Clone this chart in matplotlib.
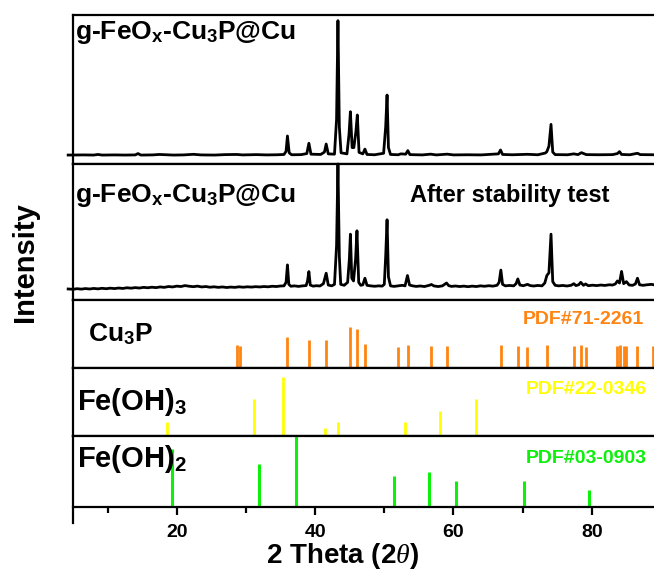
import matplotlib
matplotlib.use("Agg")
import matplotlib.pyplot as plt
from matplotlib.ticker import MultipleLocator

plt.rcParams['font.family'] = ['Liberation Sans', 'DejaVu Sans']
plt.rcParams['mathtext.fontset'] = 'custom'
plt.rcParams['mathtext.it'] = 'Liberation Serif:italic'
plt.rcParams['mathtext.rm'] = 'Liberation Sans:bold'

# XRD pattern, as-prepared sample (2theta, normalised intensity)
tt_fresh = [4.3, 6.5, 8.0, 8.6, 9.2, 11.0, 12.5, 14.0, 14.4, 14.8,
            16.5, 17.5, 19.5, 21.0, 22.4, 23.5, 25.5, 27.0, 28.7, 29.5,
            31.5, 33.0, 34.5, 35.5, 35.8, 36.0, 36.25, 36.6, 38.0, 38.8,
            39.1, 39.4, 40.8, 41.35, 41.6, 41.9, 42.8, 43.1, 43.3, 43.5,
            43.75, 44.6, 44.9, 45.1, 45.35, 45.6, 45.9, 46.1, 46.35, 46.9,
            47.2, 47.5, 48.6, 49.9, 50.2, 50.4, 50.6, 50.9, 52.0, 52.4,
            53.1, 53.4, 53.7, 55.5, 56.7, 57.5, 59.1, 60.0, 62.0, 64.0,
            66.5, 66.8, 67.1, 68.5, 70.7, 72.2, 73.3, 73.5, 73.8, 74.1,
            74.35, 74.7, 76.5, 77.4, 78.0, 78.5, 79.2, 81.0, 83.0, 83.7,
            84.0, 84.3, 85.5, 86.6, 87.0, 89.0, 90.0]
int_fresh = [.060, .061, .060, .064, .060, .061, .060, .061, .070, .060,
             .061, .064, .060, .061, .065, .061, .060, .063, .064, .061,
             .063, .061, .062, .064, .085, .188, .075, .062, .063, .070,
             .139, .066, .064, .080, .134, .068, .066, .300, .962, .250,
             .075, .068, .200, .351, .110, .110, .220, .329, .078, .068,
             .100, .064, .062, .072, .250, .463, .110, .064, .062, .068,
             .066, .090, .063, .061, .066, .061, .066, .061, .062, .061,
             .068, .094, .064, .062, .065, .062, .074, .083, .120, .266,
             .080, .063, .062, .068, .063, .076, .063, .062, .063, .070,
             .083, .064, .062, .072, .063, .062, .062]

# XRD pattern after stability test
tt_after = [4.3, 5.0, 5.6, 6.2, 6.8, 7.4, 8.0, 8.6, 9.2, 9.8,
            10.4, 11.0, 11.6, 12.2, 12.8, 13.4, 14.0, 14.6, 15.2, 15.8,
            16.4, 17.0, 17.6, 18.2, 18.8, 19.4, 20.0, 20.6, 21.2, 21.8,
            22.4, 23.0, 23.6, 24.2, 24.8, 25.4, 26.0, 26.6, 27.2, 27.8,
            28.4, 29.0, 29.6, 30.2, 30.8, 31.4, 32.0, 32.6, 33.2, 33.8,
            34.4, 35.0, 35.5, 35.8, 36.0, 36.2, 36.5, 37.0, 37.6, 38.2,
            38.7, 38.9, 39.1, 39.3, 39.7, 40.2, 40.7, 41.2, 41.6, 41.9,
            42.4, 42.8, 43.1, 43.3, 43.5, 43.7, 44.2, 44.7, 44.95, 45.1,
            45.3, 45.55, 45.85, 46.05, 46.3, 46.6, 46.9, 47.2, 47.5, 48.0,
            48.6, 49.2, 49.7, 50.0, 50.2, 50.4, 50.6, 50.9, 51.4, 52.0,
            52.6, 53.0, 53.35, 53.65, 54.1, 54.6, 55.2, 55.8, 56.5, 56.8,
            57.2, 57.8, 58.4, 59.0, 59.3, 59.7, 60.3, 60.9, 61.5, 62.1,
            62.7, 63.3, 63.9, 64.5, 65.1, 65.7, 66.3, 66.6, 66.85, 67.1,
            67.5, 68.1, 68.7, 69.05, 69.3, 69.6, 70.1, 70.7, 71.1, 71.6,
            72.2, 72.8, 73.2, 73.5, 73.8, 74.1, 74.35, 74.7, 75.2, 75.8,
            76.4, 77.0, 77.4, 77.7, 78.1, 78.4, 78.8, 79.1, 79.5, 80.1,
            80.7, 81.3, 81.9, 82.5, 83.0, 83.4, 83.7, 84.0, 84.3, 84.6,
            85.0, 85.4, 85.9, 86.3, 86.6, 86.9, 87.4, 88.0, 88.6, 89.2, 90.0]
int_after = [.081, .079, .083, .080, .084, .081, .085, .082, .086, .083,
             .087, .084, .088, .085, .090, .087, .091, .088, .093, .090,
             .094, .091, .096, .093, .099, .096, .102, .099, .106, .101,
             .098, .102, .096, .099, .094, .097, .093, .096, .092, .095,
             .093, .097, .094, .097, .095, .098, .096, .099, .097, .101,
             .099, .103, .104, .130, .258, .115, .101, .104, .100, .104,
             .106, .140, .209, .110, .102, .105, .103, .120, .197, .110,
             .104, .115, .400, 1.00, .320, .115, .108, .130, .300, .484,
             .160, .140, .300, .509, .130, .108, .112, .160, .108, .104,
             .101, .104, .102, .115, .320, .590, .170, .104, .100, .104,
             .108, .104, .180, .110, .104, .100, .103, .099, .108, .114,
             .103, .099, .104, .125, .106, .100, .103, .099, .102, .098,
             .102, .099, .104, .101, .105, .102, .108, .130, .220, .115,
             .104, .107, .104, .120, .155, .110, .105, .115, .106, .103,
             .107, .104, .125, .180, .200, .484, .135, .108, .104, .107,
             .103, .108, .120, .106, .112, .130, .108, .118, .105, .109,
             .106, .110, .107, .112, .110, .118, .140, .125, .210, .120,
             .135, .110, .108, .118, .160, .112, .108, .112, .115, .110, .112]

# reference cards
cu3p_pos = [28.7, 29.1, 36.0, 39.1, 41.6, 45.1, 46.1, 47.2, 52.0, 53.4,
            56.7, 59.1, 66.8, 69.3, 70.7, 73.5, 77.4, 78.4, 79.1, 83.7,
            84.1, 84.6, 85.0, 86.6, 88.8]
cu3p_int = [0.34, 0.32, 0.46, 0.41, 0.41, 0.61, 0.58, 0.35, 0.31, 0.34,
            0.33, 0.33, 0.34, 0.32, 0.31, 0.34, 0.32, 0.34, 0.31, 0.32,
            0.34, 0.33, 0.33, 0.33, 0.32]
feoh3_pos = [18.6, 31.1, 35.3, 41.4, 43.3, 53.0, 58.0, 63.2]
feoh3_int = [0.20, 0.54, 0.87, 0.12, 0.20, 0.20, 0.37, 0.54]
feoh2_pos = [19.3, 31.9, 37.2, 51.4, 56.4, 60.4, 70.2, 79.6]
feoh2_int = [0.82, 0.60, 1.00, 0.44, 0.50, 0.37, 0.37, 0.24]

orange = '#FF8412'
yellow = '#FFFF00'
green = '#0CF00C'

W, H = 654, 572
fig = plt.figure(figsize=(W / 100, H / 100), dpi=100)

left = 73 / W
width = 588 / W
rows = [(15, 164), (164, 300), (300, 368), (368, 436), (436, 507)]
axes = []
for top, bot in rows:
    ax = fig.add_axes([left, 1 - bot / H, width, (bot - top) / H])
    ax.set_xlim(5, 90)
    ax.set_ylim(0, 1)
    ax.set_yticks([])
    for s in ax.spines.values():
        s.set_linewidth(1.6)
    axes.append(ax)

ax1, ax2, ax3, ax4, ax5 = axes
for ax in axes[:-1]:
    ax.set_xticks([])

ax1.plot(tt_fresh, int_fresh, color='black', lw=2, clip_on=False)
ax2.plot(tt_after, int_after, color='black', lw=2, clip_on=False)
ax3.vlines(cu3p_pos, 0, cu3p_int, colors=orange, lw=2)
ax4.vlines(feoh3_pos, 0, feoh3_int, colors=yellow, lw=2)
ax5.vlines(feoh2_pos, 0, feoh2_int, colors=green, lw=2.2)

label = r'g-FeO$_\mathregular{x}$-Cu$_\mathregular{3}$P@Cu'
ax1.text(0.004, 0.88, label, transform=ax1.transAxes, fontsize=19,
         fontweight='bold', ha='left', va='center')
ax2.text(0.004, 0.77, label, transform=ax2.transAxes, fontsize=19,
         fontweight='bold', ha='left', va='center')
ax2.text(53.7, 0.765, 'After stability test', fontsize=17,
         fontweight='bold', ha='left', va='center')

ax3.text(7.2, 0.50, r'Cu$_\mathregular{3}$P', fontsize=19,
         fontweight='bold', ha='left', va='center')
ax4.text(5.6, 0.50, r'Fe(OH)$_\mathregular{3}$', fontsize=21,
         fontweight='bold', ha='left', va='center')
ax5.text(5.6, 0.67, r'Fe(OH)$_\mathregular{2}$', fontsize=21,
         fontweight='bold', ha='left', va='center')

ax3.text(87.5, 0.71, 'PDF#71-2261', color=orange, fontsize=14,
         fontweight='bold', ha='right', va='center')
ax4.text(88.0, 0.68, 'PDF#22-0346', color=yellow, fontsize=14,
         fontweight='bold', ha='right', va='center')
ax5.text(88.0, 0.69, 'PDF#03-0903', color=green, fontsize=14,
         fontweight='bold', ha='right', va='center')

ax5.set_xticks([20, 40, 60, 80])
ax5.xaxis.set_minor_locator(MultipleLocator(10))
ax5.tick_params(axis='x', which='major', direction='out', length=6,
                width=1.6, labelsize=14, pad=6)
ax5.tick_params(axis='x', which='minor', direction='out', length=4,
                width=1.6)
for t in ax5.get_xticklabels():
    t.set_fontweight('bold')
ax5.spines['left'].set_bounds(-0.22, 1)

fig.text(0.038, 0.542, 'Intensity', rotation=90, fontsize=21,
         fontweight='bold', ha='center', va='center')
fig.text(0.523, 0.028, r'2 Theta (2$\theta$)', fontsize=20,
         fontweight='bold', ha='center', va='center')

fig.savefig('out.png', dpi=100)
